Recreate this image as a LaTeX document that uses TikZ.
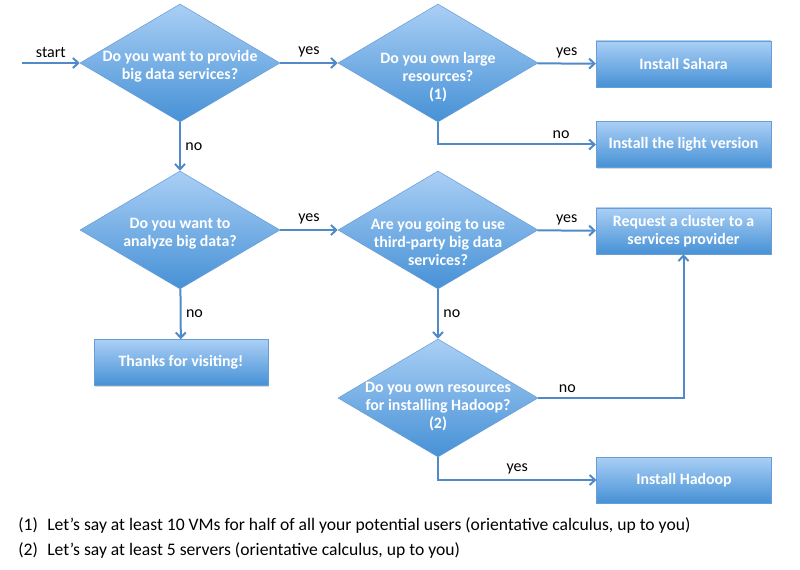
\documentclass[tikz,border=0pt]{standalone}
\usepackage{fontspec}
\setmainfont{Carlito}
\usetikzlibrary{shapes.geometric,arrows.meta,shadows}
\definecolor{flowtop}{RGB}{170,207,245}
\definecolor{flowbot}{RGB}{70,145,214}
\definecolor{flowedge}{RGB}{104,157,214}
\definecolor{flowline}{RGB}{80,138,200}
\tikzset{
  decision/.style={diamond, draw=flowedge, top color=flowtop, bottom color=flowbot,
    minimum width=150pt, minimum height=88.5pt, inner sep=0pt},
  qtext/.style={text=white, font=\bfseries\fontsize{11.9}{13.6}\selectfont, align=center},
  action/.style={rectangle, draw=flowedge, top color=flowtop, bottom color=flowbot,
    minimum width=131pt, minimum height=34.5pt, inner sep=0pt, text=white,
    font=\bfseries\fontsize{11.9}{13.6}\selectfont, align=center,
    drop shadow={shadow xshift=0.6pt, shadow yshift=-0.9pt, opacity=0.3}},
  lbl/.style={font=\fontsize{12}{14}\selectfont, text=black},
  note/.style={font=\fontsize{13.2}{15}\selectfont, anchor=base west, inner sep=0pt},
  vh/.style={to path={|- (\tikztotarget) \tikztonodes}},
  hv/.style={to path={-| (\tikztotarget) \tikztonodes}}
}
\begin{document}
\begin{tikzpicture}[x=0.75pt, y=-0.75pt, ->, >={Straight Barb[length=4pt,width=7.5pt]},
  every edge/.append style={draw=flowline, line width=1.5pt}]
\useasboundingbox (0,0) rectangle (800,570);
\coordinate (S) at (22,63);
\node[decision, label={[qtext, yshift=-2.5pt]center:Do you want to provide\\big data services?}] (D1) at (180,63) {};
\node[decision, label={[qtext, yshift=-10.5pt]center:Do you own large\\resources?\\(1)}] (D2) at (438,63) {};
\node[decision, label={[qtext, yshift=-2.5pt]center:Do you want to\\analyze big data?}] (D3) at (180,230) {};
\node[decision, label={[qtext, yshift=-9pt]center:Are you going to use\\third-party big data\\services?}] (D4) at (438,230) {};
\node[decision, label={[qtext, yshift=-6.5pt]center:Do you own resources\\for installing Hadoop?\\(2)}] (D5) at (438,398) {};
\node[action] (Sahara) at (683.5,64) {Install Sahara};
\node[action] (Light) at (683.5,144.5) {Install the light version};
\node[action] (Request) at (683.5,231) {Request a cluster to a\\services provider};
\node[action] (Hadoop) at (684,480) {Install Hadoop};
\node[action, minimum width=130.5pt] (Thanks) at (181,362.5) {Thanks for visiting!};
\path
  (S) edge node [above,midway,lbl] {start} (D1)
  (D1) edge node [above,midway,lbl] {yes} (D2)
  (D1) edge node [right,midway,lbl] {no} (D3)
  (D2) edge node [above,midway,lbl] {yes} (Sahara)
  (D2.south) edge [vh] node [above,pos=0.89,lbl] {no} (Light)
  (D3) edge node [above,midway,lbl] {yes} (D4)
  (D3) edge node [right,midway,lbl] {no} (Thanks)
  (D4) edge node [above,midway,lbl] {yes} (Request)
  (D4) edge node [right,midway,lbl] {no} (D5)
  (D5.east) edge [hv] node [above,pos=0.1,lbl] {no} (Request)
  (D5.south) edge [vh] node [above,pos=0.75,lbl] {yes} (Hadoop)
;
\node[note] (N1) at (18,530) {\makebox[21.75pt][l]{(1)}Let’s say at least 10 VMs for half of all your potential users (orientative calculus, up to you)};
\node[note] (N2) at (18,555) {\makebox[21.75pt][l]{(2)}Let’s say at least 5 servers (orientative calculus, up to you)};
\end{tikzpicture}
\end{document}
